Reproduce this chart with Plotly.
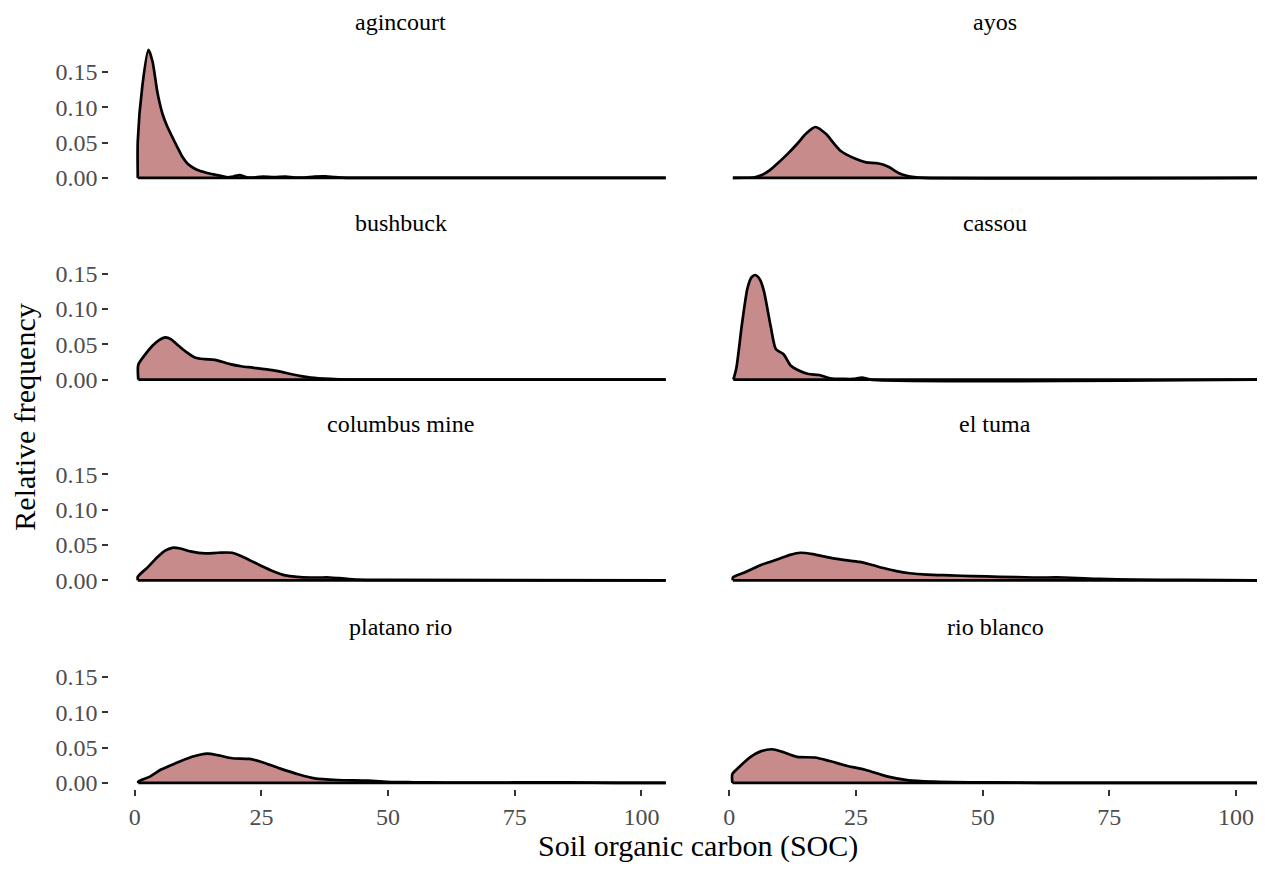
import plotly.graph_objects as go

# density curves (SOC value, relative frequency)
sites = ["agincourt", "ayos", "bushbuck", "cassou",
         "columbus mine", "el tuma", "platano rio", "rio blanco"]

agincourt_x = [0.6, 0.6, 1.5, 2.7, 3.5, 4.5, 5.5, 6.4, 7.4, 8.3, 9.4, 10.5, 11.6, 12.8, 14.3, 15.8, 17.0, 18.1, 19.5, 20.7, 22.0, 23.0, 24.2, 25.2, 27.5, 29.8, 31.5, 33.5, 35.5, 37.7, 39.5, 42.0, 104.8]
agincourt_y = [0.0, 0.052, 0.13, 0.181, 0.165, 0.12, 0.09, 0.073, 0.058, 0.045, 0.03, 0.0196, 0.014, 0.010, 0.007, 0.0047, 0.003, 0.001, 0.002, 0.004, 0.001, 0.0005, 0.001, 0.002, 0.001, 0.002, 0.0005, 0.0005, 0.002, 0.0023, 0.001, 0.0, 0.0]

ayos_x = [0.7, 3.0, 5.0, 6.4, 8.0, 9.6, 11.5, 13.5, 15.2, 17.0, 19.1, 20.5, 22.0, 24.9, 27.0, 29.0, 30.3, 31.6, 33.4, 35.0, 36.5, 38.5, 104.8]
ayos_y = [0.0, 0.0002, 0.001, 0.004, 0.011, 0.021, 0.034, 0.049, 0.063, 0.072, 0.062, 0.05, 0.038, 0.027, 0.022, 0.021, 0.019, 0.015, 0.007, 0.003, 0.001, 0.0, 0.0]

bushbuck_x = [0.7, 0.7, 2.0, 3.5, 4.8, 6.0, 7.2, 8.3, 10.0, 12.0, 13.8, 15.8, 18.8, 21.0, 23.3, 27.1, 29.0, 30.8, 32.8, 34.7, 38.5, 42.3, 104.8]
bushbuck_y = [0.0, 0.021, 0.035, 0.048, 0.056, 0.0597, 0.057, 0.050, 0.040, 0.031, 0.029, 0.028, 0.022, 0.019, 0.017, 0.0136, 0.011, 0.008, 0.005, 0.003, 0.001, 0.0, 0.0]

cassou_x = [0.8, 1.4, 2.5, 3.6, 4.4, 5.1, 6.0, 6.8, 8.2, 9.2, 10.7, 12.1, 13.5, 15.6, 17.7, 19.9, 22.6, 24.5, 26.2, 27.9, 104.8]
cassou_y = [0.0, 0.017, 0.079, 0.13, 0.145, 0.148, 0.142, 0.126, 0.074, 0.043, 0.036, 0.020, 0.0136, 0.008, 0.0066, 0.002, 0.001, 0.001, 0.003, 0.0, 0.0]

columbus_mine_x = [0.6, 0.6, 2.5, 4.5, 6.0, 7.4, 9.0, 11.0, 13.9, 16.5, 19.2, 22.0, 24.8, 27.3, 29.7, 32.0, 34.6, 36.5, 38.5, 40.5, 44.0, 50.0, 104.8]
columbus_mine_y = [0.0, 0.005, 0.018, 0.033, 0.042, 0.046, 0.045, 0.041, 0.038, 0.039, 0.039, 0.031, 0.021, 0.013, 0.007, 0.005, 0.004, 0.004, 0.004, 0.003, 0.001, 0.0005, 0.0]

el_tuma_x = [0.7, 0.7, 3.0, 6.0, 8.0, 10.0, 12.0, 14.0, 16.5, 19.8, 22.5, 25.7, 28.0, 30.6, 33.0, 35.6, 39.0, 43.5, 48.0, 53.3, 60.0, 66.0, 73.0, 80.0, 90.0, 104.8]
el_tuma_y = [0.0, 0.004, 0.011, 0.021, 0.026, 0.031, 0.036, 0.039, 0.037, 0.032, 0.029, 0.026, 0.022, 0.017, 0.013, 0.01, 0.008, 0.007, 0.006, 0.005, 0.004, 0.004, 0.002, 0.001, 0.0005, 0.0]

platano_rio_x = [0.7, 0.7, 3.0, 5.2, 8.3, 11.3, 14.3, 16.6, 19.2, 22.6, 24.9, 28.6, 32.4, 35.5, 40.0, 46.0, 50.6, 55.0, 61.5, 70.0, 80.0, 85.0, 95.0, 104.8]
platano_rio_y = [0.0, 0.0019, 0.009, 0.019, 0.0285, 0.037, 0.0416, 0.039, 0.035, 0.034, 0.030, 0.0206, 0.012, 0.0065, 0.0042, 0.0033, 0.0014, 0.001, 0.0007, 0.0005, 0.001, 0.0008, 0.0002, 0.0]

rio_blanco_x = [0.6, 0.6, 2.0, 4.2, 6.3, 8.4, 10.5, 13.4, 16.9, 19.8, 23.3, 26.8, 31.1, 35.4, 40.4, 47.5, 57.0, 65.0, 104.8]
rio_blanco_y = [0.0, 0.0126, 0.023, 0.037, 0.045, 0.0477, 0.044, 0.037, 0.036, 0.031, 0.024, 0.0187, 0.0093, 0.0037, 0.0019, 0.001, 0.0005, 0.0, 0.0]

curves = [(agincourt_x, agincourt_y), (ayos_x, ayos_y), (bushbuck_x, bushbuck_y),
          (cassou_x, cassou_y), (columbus_mine_x, columbus_mine_y), (el_tuma_x, el_tuma_y),
          (platano_rio_x, platano_rio_y), (rio_blanco_x, rio_blanco_y)]

x_ticks = [0, 25, 50, 75, 100]
y_ticks = [0.0, 0.05, 0.10, 0.15]

# the page body has an 8px margin, so the figure is made smaller and
# all page positions below are shifted by that offset
OFF = 8
W, H = 1265 - OFF, 872 - OFF
FONT = "Liberation Serif"
FILL = "#C78B8C"
LW = 2.7


def px(x_page):
    return (x_page - OFF) / W


def py(y_page):
    return 1 - (y_page - OFF) / H


# panel boxes in page pixels; the right column runs off the picture edge
x_lo, x_hi = -5, 110
px_per_x = 5.067
col_left = [109.4, 704.0]
zero_px = [179.3, 382.7, 585.0, 789.3]
y_lo, y_hi = -0.0091, 0.1915
px_per_y = 713.0

fig = go.Figure()
annotations = []

for i, (site, (xs, ys)) in enumerate(zip(sites, curves)):
    r, c = divmod(i, 2)
    n = i + 1
    sfx = "" if n == 1 else str(n)
    top = zero_px[r] - y_hi * px_per_y
    bot = zero_px[r] - y_lo * px_per_y
    x0 = col_left[c]
    x1_full = x0 + (x_hi - x_lo) * px_per_x
    x1 = min(x1_full, 1265)
    xr_hi = x_lo + (x1 - x0) / px_per_x

    fig.add_trace(go.Scatter(x=xs, y=ys, mode="lines", fill="tozeroy", fillcolor=FILL,
                             line=dict(color="black", width=LW, shape="spline", smoothing=0.7),
                             xaxis="x" + sfx, yaxis="y" + sfx, showlegend=False, hoverinfo="skip"))
    fig.add_trace(go.Scatter(x=[xs[0], xs[-1]], y=[0, 0], mode="lines",
                             line=dict(color="black", width=LW),
                             xaxis="x" + sfx, yaxis="y" + sfx, showlegend=False, hoverinfo="skip"))

    bottom_row = r == 3
    left_col = c == 0
    fig.layout["xaxis" + sfx] = dict(
        domain=[px(x0), px(x1)], range=[x_lo, xr_hi], anchor="y" + sfx,
        showgrid=False, zeroline=False, showline=False,
        tickvals=x_ticks, ticks="outside" if bottom_row else "", ticklen=6, tickwidth=2,
        tickcolor="#333333", showticklabels=bottom_row,
        tickfont=dict(family=FONT, size=24, color="#4D4D4D"))
    fig.layout["yaxis" + sfx] = dict(
        domain=[py(bot), py(top)], range=[y_lo, y_hi], anchor="x" + sfx,
        showgrid=False, zeroline=False, showline=False,
        tickvals=y_ticks, tickformat=".2f", ticks="outside" if left_col else "", ticklen=6,
        tickwidth=2, tickcolor="#333333", showticklabels=left_col,
        tickfont=dict(family=FONT, size=24, color="#4D4D4D"))

    annotations.append(dict(text=site, x=px((x0 + x1_full) / 2), y=py(top - 21),
                            xref="paper", yref="paper", showarrow=False,
                            xanchor="center", yanchor="middle",
                            font=dict(family=FONT, size=24, color="black")))

annotations.append(dict(text="Soil organic carbon (SOC)", x=px(698), y=py(853),
                        xref="paper", yref="paper", showarrow=False,
                        xanchor="center", yanchor="middle",
                        font=dict(family=FONT, size=30, color="black")))
annotations.append(dict(text="Relative frequency", x=px(25), y=py(421), textangle=-90,
                        xref="paper", yref="paper", showarrow=False,
                        xanchor="center", yanchor="middle",
                        font=dict(family=FONT, size=30, color="black")))

fig.update_layout(width=W, height=H, margin=dict(l=0, r=0, t=0, b=0),
                  plot_bgcolor="white", paper_bgcolor="white",
                  annotations=annotations)

fig.write_html("out.html")
